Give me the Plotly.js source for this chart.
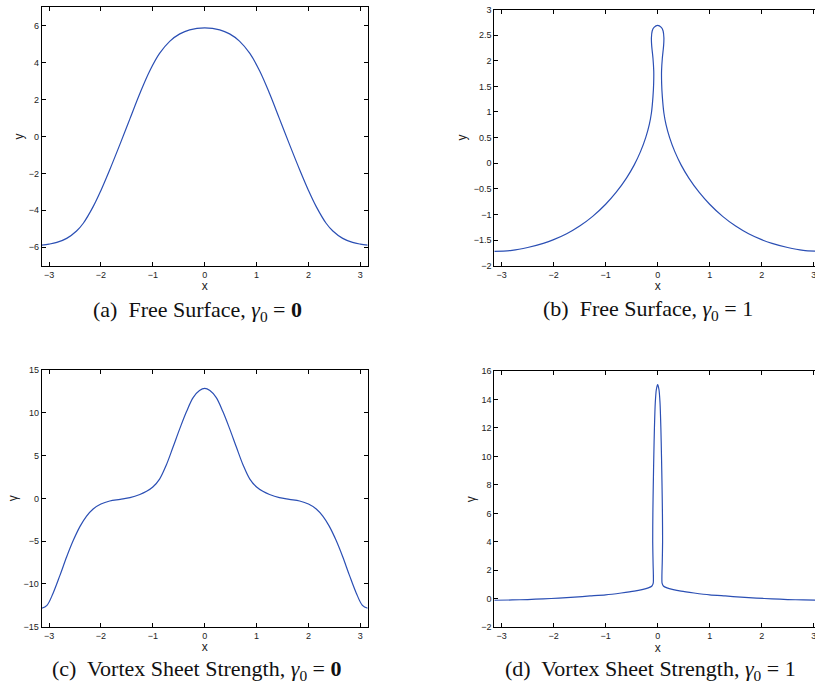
<!DOCTYPE html>
<html>
<head>
<meta charset="utf-8">
<script src="https://cdn.plot.ly/plotly-3.0.1.min.js"></script>
<style>
html,body{margin:0;padding:0;overflow:hidden;background:#fff;}
#chart{width:822px;height:686px;}
</style>
</head>
<body>
<div id="chart"></div>
<script>
// (a) Free surface, gamma0 = 0
const xA = [-3.1416,-3.0,-2.85,-2.66,-2.47,-2.34,-2.15,-2.0,-1.83,-1.63,-1.44,-1.25,-1.06,-0.87,-0.67,-0.48,-0.29,0,
            0.29,0.48,0.67,0.87,1.06,1.25,1.44,1.63,1.83,2.0,2.15,2.34,2.47,2.66,2.85,3.0,3.1416];
const yA = [-5.88,-5.83,-5.74,-5.52,-5.12,-4.70,-3.80,-2.92,-1.80,-0.40,0.97,2.33,3.55,4.50,5.17,5.56,5.78,5.88,
            5.78,5.56,5.17,4.50,3.55,2.33,0.97,-0.40,-1.80,-2.92,-3.80,-4.70,-5.12,-5.52,-5.74,-5.83,-5.88];

// (b) Free surface, gamma0 = 1
const xB = [-3.1416,-2.8,-2.5,-2.2,-2.0,-1.75,-1.5,-1.25,-1.0,-0.8,-0.6,-0.45,-0.33,-0.23,-0.16,-0.12,-0.09,-0.077,-0.075,-0.09,-0.115,-0.12,-0.105,-0.07,0,
            0.07,0.105,0.12,0.115,0.09,0.075,0.077,0.09,0.12,0.16,0.23,0.33,0.45,0.6,0.8,1.0,1.25,1.5,1.75,2.0,2.2,2.5,2.8,3.1416];
const yB = [-1.72,-1.70,-1.645,-1.564,-1.492,-1.377,-1.227,-1.037,-0.80,-0.57,-0.29,-0.032,0.226,0.50,0.76,0.98,1.30,1.55,1.80,2.05,2.30,2.45,2.58,2.65,2.69,
            2.65,2.58,2.45,2.30,2.05,1.80,1.55,1.30,0.98,0.76,0.50,0.226,-0.032,-0.29,-0.57,-0.80,-1.037,-1.227,-1.377,-1.492,-1.564,-1.645,-1.70,-1.72];

// (c) Vortex sheet strength, gamma0 = 0
const xC = [-3.1416,-3.04,-2.92,-2.79,-2.66,-2.53,-2.40,-2.28,-2.15,-2.0,-1.83,-1.63,-1.44,-1.25,-1.12,-1.0,-0.87,-0.74,-0.61,-0.48,-0.35,-0.22,-0.10,0,
            0.10,0.22,0.35,0.48,0.61,0.74,0.87,1.0,1.12,1.25,1.44,1.63,1.83,2.0,2.15,2.28,2.40,2.53,2.66,2.79,2.92,3.04,3.1416];
const yC = [-12.85,-12.5,-11.05,-9.0,-6.83,-4.88,-3.25,-2.10,-1.24,-0.66,-0.31,-0.12,0.08,0.45,0.82,1.32,2.25,3.90,6.0,8.15,10.15,11.8,12.6,12.85,
            12.6,11.8,10.15,8.15,6.0,3.90,2.25,1.32,0.82,0.45,0.08,-0.12,-0.31,-0.66,-1.24,-2.10,-3.25,-4.88,-6.83,-9.0,-11.05,-12.5,-12.85];

// (d) Vortex sheet strength, gamma0 = 1
const xD = [-3.1416,-2.8,-2.5,-2.2,-1.9,-1.6,-1.3,-1.0,-0.7,-0.45,-0.3,-0.18,-0.11,-0.085,-0.082,-0.088,-0.095,-0.092,-0.084,-0.074,-0.062,-0.045,-0.025,0,
            0.025,0.045,0.062,0.074,0.084,0.092,0.095,0.088,0.082,0.085,0.11,0.18,0.3,0.45,0.7,1.0,1.3,1.6,1.9,2.2,2.5,2.8,3.1416];
const yD = [-0.10,-0.08,-0.05,0.0,0.05,0.12,0.20,0.28,0.41,0.54,0.65,0.77,0.90,1.10,1.60,2.50,4.00,6.00,8.00,10.00,12.00,13.80,14.70,15.05,
            14.70,13.80,12.00,10.00,8.00,6.00,4.00,2.50,1.60,1.10,0.90,0.77,0.65,0.54,0.41,0.28,0.20,0.12,0.05,0.0,-0.05,-0.08,-0.10];

const xTicks = [-3,-2,-1,0,1,2,3];
const yTicksA = [-6,-4,-2,0,2,4,6];
const yTicksB = [-2,-1.5,-1,-0.5,0,0.5,1,1.5,2,2.5,3];
const yTicksC = [-15,-10,-5,0,5,10,15];
const yTicksD = [-2,0,2,4,6,8,10,12,14,16];

const captions = [
  "(a)  Free Surface, <i>γ</i><sub>0</sub> = <b>0</b>",
  "(b)  Free Surface, <i>γ</i><sub>0</sub> = 1",
  "(c)  Vortex Sheet Strength, <i>γ</i><sub>0</sub> = <b>0</b>",
  "(d)  Vortex Sheet Strength, <i>γ</i><sub>0</sub> = 1"
];

const W = 822, H = 686;
const lineColor = '#2b4fb4';
function dx(a,b){return [a/W, b/W];}
function dy(top,bottom){return [1-bottom/H, 1-top/H];}

const tr = (x,y,xa,ya,sm) => ({x:x, y:y, xaxis:xa, yaxis:ya, type:'scatter', mode:'lines',
  line:{color:lineColor, width:1.2, shape:'spline', smoothing:sm}, showlegend:false, hoverinfo:'skip'});

const data = [tr(xA,yA,'x','y',1), tr(xB,yB,'x2','y2',0.8), tr(xC,yC,'x3','y3',1), tr(xD,yD,'x4','y4',0.7)];

const tickFont = {family:'Liberation Sans, Arial, sans-serif', size:9, color:'#222'};
const titleFont = {family:'Liberation Sans, Arial, sans-serif', size:12, color:'#222'};
function xax(domain, anchor){
  return {domain:domain, anchor:anchor, range:[-Math.PI, Math.PI], tickvals:xTicks,
    showline:true, linecolor:'#000', linewidth:1, mirror:'ticks', ticks:'inside', ticklen:4, tickcolor:'#000',
    showgrid:false, zeroline:false, tickfont:tickFont, automargin:false,
    title:{text:'x', font:titleFont, standoff:2}};
}
function yax(domain, anchor, range, ticks, label, so){
  return {domain:domain, anchor:anchor, range:range, tickvals:ticks,
    showline:true, linecolor:'#000', linewidth:1, mirror:'ticks', ticks:'inside', ticklen:4, tickcolor:'#000',
    showgrid:false, zeroline:false, tickfont:tickFont, automargin:false,
    title:{text:label, font:titleFont, standoff:so}};
}

const layout = {
  width:W, height:H, margin:{l:0,r:0,t:0,b:0}, paper_bgcolor:'#fff', plot_bgcolor:'#fff',
  xaxis: xax(dx(41.7,367.7),'y'),
  yaxis: yax(dy(7.3,265.7),'x',[-7,7],yTicksA,'y',2),
  xaxis2: xax(dx(494.3,821),'y2'),
  yaxis2: yax(dy(9.5,265.7),'x2',[-2,3],yTicksB,'y',4),
  xaxis3: xax(dx(41.7,367.7),'y3'),
  yaxis3: yax(dy(370,626.7),'x3',[-15,15],yTicksC,'γ',3),
  xaxis4: xax(dx(494.3,821),'y4'),
  yaxis4: yax(dy(371,627.3),'x4',[-2,16],yTicksD,'γ',3),
  annotations: [
    {text:captions[0], x:197/W, y:1-311/H},
    {text:captions[1], x:648/W, y:1-310/H},
    {text:captions[2], x:197/W, y:1-670/H},
    {text:captions[3], x:650/W, y:1-670/H}
  ].map(a => Object.assign({xref:'paper', yref:'paper', showarrow:false, xanchor:'center', yanchor:'middle',
      font:{family:'Liberation Serif, Times New Roman, serif', size:22, color:'#111'}}, a))
};

Plotly.newPlot('chart', data, layout, {staticPlot:true, displayModeBar:false});
</script>
</body>
</html>
